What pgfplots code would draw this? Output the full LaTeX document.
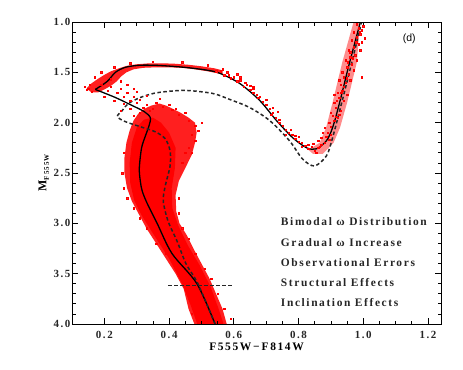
\documentclass[border=0pt]{standalone}
\usepackage{pgfplots}
\pgfplotsset{compat=1.18}
\usepackage{fontspec}
\setmainfont{Liberation Sans}
\newfontfamily\tickfont[LetterSpace=14]{Liberation Serif}
\newfontfamily\labfont[LetterSpace=14]{Liberation Serif}
\begin{document}
\begin{tikzpicture}
\begin{axis}[
    at={(256.5bp,197bp)}, anchor=center,
    scale only axis, width=369bp, height=302bp,
    xmin=0.1, xmax=1.24, ymin=1, ymax=4, y dir=reverse,
    axis on top=true,
    axis line style={black, line width=1bp},
    every tick/.append style={black, line width=0.8bp},
    xtick={0.2,0.4,...,1.2}, ytick={1,1.5,...,4},
    minor x tick num=3, minor y tick num=4,
    major tick length=6bp, minor tick length=3.5bp,
    /pgf/number format/assume math mode=true,
    /pgf/number format/fixed, /pgf/number format/precision=1,
    /pgf/number format/fixed zerofill,
    tick label style={font=\tickfont\bfseries\fontsize{11}{12}\selectfont, text=black!85},
    xticklabel style={yshift=-4bp},
    yticklabel style={xshift=2bp},
    xlabel={\labfont\bfseries\fontsize{11.5}{13}\selectfont F555W\,\textminus\,F814W},
    ylabel={\labfont\bfseries\fontsize{12}{13}\selectfont M\raisebox{-0.45ex}{\fontsize{7}{8}\selectfont F555W}},
    xlabel style={yshift=3bp},
    ylabel style={yshift=-2bp},
]
% ---- red star cloud: dense regions
% main sequence, outer (speckled) part
\addplot[fill=red!88, draw=none] coordinates {
(0.478,4.0) (0.46,3.85) (0.445,3.65) (0.42,3.5) (0.39,3.35) (0.36,3.2)
(0.33,3.05) (0.305,2.9) (0.285,2.78) (0.27,2.65) (0.262,2.5) (0.262,2.35)
(0.268,2.2) (0.278,2.08) (0.29,1.98) (0.305,1.91) (0.325,1.86) (0.345,1.83)
(0.37,1.81) (0.39,1.83) (0.41,1.86) (0.435,1.90) (0.46,1.95) (0.48,2.0)
(0.485,2.1) (0.48,2.2) (0.47,2.32) (0.45,2.45) (0.43,2.58) (0.42,2.72)
(0.422,2.88) (0.432,3.0) (0.455,3.12) (0.475,3.25) (0.5,3.4) (0.525,3.55)
(0.545,3.7) (0.565,3.85) (0.578,4.0) (0.478,4.0)};
% main sequence, dense core
\addplot[fill=red, draw=none] coordinates {
(0.487,4.0) (0.465,3.8) (0.44,3.6) (0.40,3.35) (0.35,3.1) (0.315,2.92)
(0.292,2.77) (0.28,2.6) (0.278,2.4) (0.285,2.2) (0.30,2.05) (0.322,1.97)
(0.35,1.95) (0.375,2.0) (0.40,2.1) (0.42,2.25) (0.418,2.45) (0.408,2.65)
(0.41,2.85) (0.428,3.02) (0.458,3.22) (0.495,3.42) (0.528,3.63)
(0.553,3.85) (0.568,4.0) (0.487,4.0)};
% turn-off hook and subgiant branch
\addplot[fill=red!88, draw=none] coordinates {
(0.145,1.66) (0.16,1.61) (0.18,1.565) (0.20,1.525) (0.22,1.49) (0.245,1.46)
(0.27,1.435) (0.30,1.42) (0.34,1.41) (0.38,1.41) (0.42,1.415) (0.46,1.425)
(0.50,1.44) (0.54,1.46) (0.565,1.48) (0.565,1.52) (0.52,1.49) (0.48,1.47)
(0.44,1.455) (0.40,1.45) (0.36,1.45) (0.32,1.455) (0.29,1.47) (0.268,1.50)
(0.252,1.54) (0.238,1.59) (0.222,1.63) (0.20,1.67) (0.18,1.70) (0.16,1.70)
(0.145,1.66)};
% red giant branch
\addplot[fill=red!45, draw=none] coordinates {
(0.83,2.27) (0.865,2.2) (0.885,2.05) (0.905,1.8) (0.935,1.4) (0.97,1.0)
(0.99,1.0) (0.98,1.4) (0.95,1.8) (0.928,2.05) (0.908,2.2) (0.875,2.31)
(0.845,2.31) (0.83,2.27)};
% ---- individual stars
\addplot[red, only marks, mark=square*, mark size=0.7pt,
  mark options={draw=none, fill=red!85}] coordinates {
(0.56,1.49) (0.57,1.53) (0.58,1.50) (0.59,1.56) (0.60,1.55) (0.61,1.59)
(0.62,1.58) (0.63,1.64) (0.64,1.62) (0.65,1.67) (0.66,1.70) (0.67,1.72)
(0.675,1.75) (0.69,1.79) (0.70,1.82) (0.71,1.86) (0.72,1.90) (0.73,1.95)
(0.74,2.00) (0.75,2.03) (0.76,2.07) (0.77,2.10) (0.78,2.12) (0.79,2.16)
(0.80,2.19) (0.81,2.20) (0.82,2.23) (0.83,2.26) (0.84,2.24) (0.85,2.28)
(0.86,2.25) (0.87,2.22) (0.845,2.21) (0.83,2.22) (0.62,1.55) (0.66,1.66)
(0.70,1.77) (0.74,1.97) (0.76,2.12) (0.79,2.13) (0.81,2.24) (0.715,1.92)
(0.635,1.60) (0.585,1.53) (0.545,1.49) (0.565,1.47) (0.61,1.52) (0.66,1.64)
(0.72,1.85) (0.735,1.89) (0.68,1.74) (0.65,1.63) (0.775,2.07) (0.80,2.14)
(0.87,2.15) (0.88,2.20) (0.89,2.10) (0.90,2.12) (0.88,2.05) (0.895,2.00)
(0.91,1.98) (0.92,1.95) (0.90,1.90) (0.915,1.85) (0.93,1.88) (0.91,1.80)
(0.925,1.75) (0.94,1.78) (0.92,1.70) (0.935,1.68) (0.95,1.72) (0.93,1.62)
(0.945,1.60) (0.94,1.55) (0.955,1.52) (0.96,1.58) (0.935,1.50) (0.95,1.45)
(0.965,1.42) (0.945,1.38) (0.96,1.35) (0.975,1.33) (0.955,1.28) (0.97,1.25)
(0.985,1.22) (0.965,1.18) (0.98,1.15) (0.99,1.12) (0.97,1.10) (0.985,1.06)
(1.0,1.04) (0.98,1.02) (0.995,1.08) (0.875,2.10) (0.86,2.18) (0.895,2.17)
(0.905,1.93) (0.925,1.92) (0.91,1.72) (0.94,1.64) (0.925,1.58) (0.97,1.48)
(0.96,1.30) (0.99,1.28) (0.98,1.38) (1.005,1.16) (0.995,1.20) (0.995,1.55)
(0.885,2.14) (0.9,2.04) (0.915,1.94) (0.918,1.78) (0.932,1.70) (0.948,1.56)
(0.952,1.40) (0.968,1.36) (0.978,1.20) (0.988,1.10) (0.865,2.24) (0.855,2.30)
(0.19,1.62) (0.21,1.68) (0.22,1.64) (0.24,1.70) (0.25,1.66) (0.26,1.74)
(0.27,1.70) (0.28,1.78) (0.29,1.74) (0.30,1.80) (0.31,1.77) (0.32,1.85)
(0.33,1.82) (0.34,1.88) (0.35,1.86) (0.30,1.69) (0.33,1.73) (0.36,1.80)
(0.38,1.84) (0.27,1.62) (0.25,1.59) (0.22,1.57) (0.29,1.66) (0.20,1.74)
(0.23,1.78) (0.26,1.81) (0.28,1.86) (0.25,1.88) (0.31,1.90) (0.29,1.93)
(0.37,1.76) (0.40,1.82) (0.42,1.86) (0.14,1.64) (0.15,1.66) (0.155,1.62)
(0.16,1.69) (0.145,1.67) (0.17,1.55) (0.19,1.50) (0.23,1.45) (0.28,1.41)
(0.35,1.395) (0.44,1.40) (0.52,1.43) (0.46,1.98) (0.48,2.03) (0.49,2.08)
(0.47,2.12) (0.50,2.0) (0.46,2.25) (0.44,2.40) (0.45,2.30) (0.48,2.18)
(0.43,1.92) (0.41,1.87) (0.45,1.90) (0.47,2.30) (0.26,2.3) (0.255,2.5)
(0.26,2.65) (0.27,2.75) (0.29,2.85) (0.31,2.95) (0.43,2.9) (0.44,3.05)
(0.46,3.15) (0.48,3.3) (0.51,3.45) (0.53,3.55) (0.55,3.7) (0.57,3.85)
(0.59,3.95) (0.43,2.75) (0.33,3.05) (0.36,3.2) (0.39,3.3) (0.42,3.45)
(0.44,3.55) (0.46,3.75) (0.47,3.9)};
% ---- models
\addplot[black, line width=1.3bp, smooth, tension=0.5] coordinates {
(0.991,1.00) (0.957,1.41) (0.926,1.81) (0.905,2.05) (0.886,2.18) (0.855,2.26)
(0.825,2.25) (0.782,2.15) (0.732,1.98) (0.680,1.78) (0.618,1.61) (0.557,1.51)
(0.52,1.48) (0.462,1.455) (0.409,1.44) (0.357,1.43) (0.308,1.43) (0.265,1.45)
(0.234,1.50) (0.209,1.59) (0.172,1.67)};
\addplot[black, line width=1.3bp, smooth, tension=0.5] coordinates {
(0.172,1.67) (0.234,1.75) (0.286,1.83) (0.323,1.89) (0.342,1.95) (0.338,2.03)
(0.327,2.13) (0.315,2.25) (0.308,2.45) (0.311,2.58) (0.317,2.68) (0.332,2.80)
(0.363,3.00) (0.409,3.30) (0.486,3.60) (0.542,4.0)};
\addplot[black!85, line width=1.5bp, dash pattern=on 3.5bp off 2.5bp, smooth, tension=0.5] coordinates {
(0.542,4.0) (0.489,3.60) (0.452,3.40) (0.425,3.18) (0.397,2.98) (0.382,2.78)
(0.388,2.63) (0.403,2.43) (0.403,2.28) (0.388,2.16) (0.357,2.09) (0.311,2.04)
(0.265,1.99) (0.240,1.94) (0.255,1.88) (0.274,1.81) (0.311,1.75) (0.351,1.71)
(0.394,1.69) (0.455,1.68) (0.535,1.71) (0.588,1.77) (0.649,1.85) (0.711,1.98)
(0.772,2.18) (0.812,2.36) (0.849,2.43) (0.886,2.33) (0.905,2.15) (0.935,1.78)
(0.966,1.38) (0.994,1.01)};
\addplot[black!85, line width=1.5bp, dash pattern=on 3.5bp off 2.5bp] coordinates {
(0.397,3.62) (0.594,3.62)};
% ---- annotations
\node[font=\fontsize{10.5}{12}\selectfont] at (axis cs:1.142,1.17) {(d)};
\node[anchor=west, inner sep=0pt, font=\labfont\bfseries\fontsize{11.5}{12}\selectfont, text=black!85]
  at (axis cs:0.745,2.98) {Bimodal ω Distribution};
\node[anchor=west, inner sep=0pt, font=\labfont\bfseries\fontsize{11.5}{12}\selectfont, text=black!85]
  at (axis cs:0.745,3.19) {Gradual ω Increase};
\node[anchor=west, inner sep=0pt, font=\labfont\bfseries\fontsize{11.5}{12}\selectfont, text=black!85]
  at (axis cs:0.745,3.39) {Observational Errors};
\node[anchor=west, inner sep=0pt, font=\labfont\bfseries\fontsize{11.5}{12}\selectfont, text=black!85]
  at (axis cs:0.745,3.585) {Structural Effects};
\node[anchor=west, inner sep=0pt, font=\labfont\bfseries\fontsize{11.5}{12}\selectfont, text=black!85]
  at (axis cs:0.745,3.785) {Inclination Effects};
\end{axis}
\path (0,0) rectangle (463bp,370bp);
\end{tikzpicture}
\end{document}
